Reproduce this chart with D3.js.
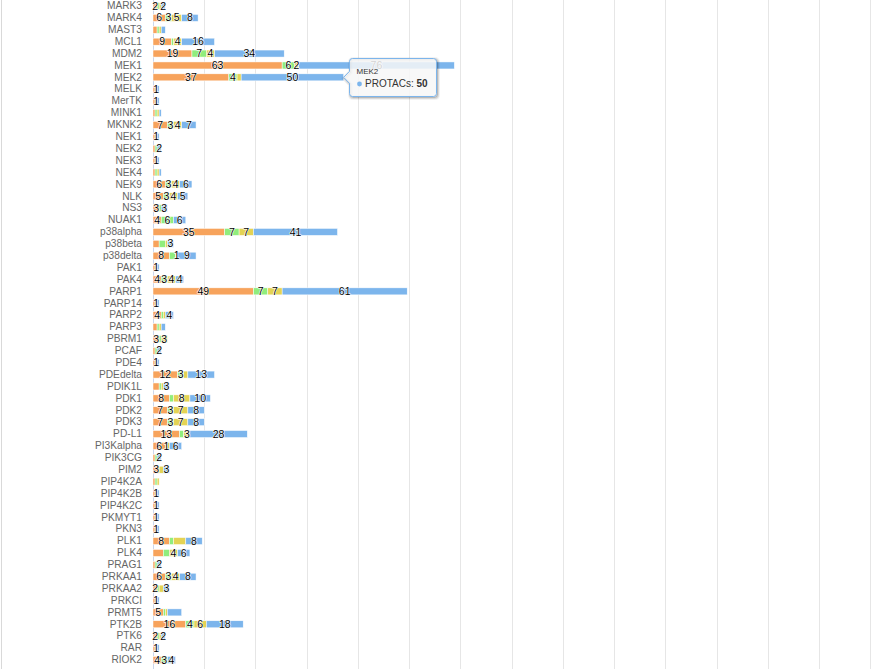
<!DOCTYPE html>
<html>
<head>
<meta charset="utf-8">
<script src="https://cdn.jsdelivr.net/npm/d3@7"></script>
<style>
  body { margin: 0; background: #fff; }
  svg { display: block; font-family: "Lucida Grande", "Lucida Sans Unicode", Arial, Helvetica, sans-serif; }
</style>
</head>
<body>
<div id="chart"></div>
<script>
// Targets shown in this part of the chart (top to bottom)
const targets = ["MARK3", "MARK4", "MAST3", "MCL1", "MDM2", "MEK1", "MEK2", "MELK", "MerTK", "MINK1",
                 "MKNK2", "NEK1", "NEK2", "NEK3", "NEK4", "NEK9", "NLK", "NS3", "NUAK1", "p38alpha",
                 "p38beta", "p38delta", "PAK1", "PAK4", "PARP1", "PARP14", "PARP2", "PARP3", "PBRM1", "PCAF",
                 "PDE4", "PDEdelta", "PDIK1L", "PDK1", "PDK2", "PDK3", "PD-L1", "PI3Kalpha", "PIK3CG", "PIM2",
                 "PIP4K2A", "PIP4K2B", "PIP4K2C", "PKMYT1", "PKN3", "PLK1", "PLK4", "PRAG1", "PRKAA1", "PRKAA2",
                 "PRKCI", "PRMT5", "PTK2B", "PTK6", "RAR", "RIOK2"];

// Series values, same order as targets
const warheads  = [2, 6, 2, 9, 19, 63, 37, 1, 1, 1,   7, 1, 1, 1, 1, 6, 5, 3, 4, 35,
                   3, 8, 1, 4, 49, 1, 4, 2, 3, 1,     1, 12, 3, 8, 7, 7, 13, 6, 1, 3,
                   1, 1, 1, 1, 1, 8, 5, 1, 6, 2,      1, 5, 16, 2, 1, 4];
const e3Ligands = [1, 3, 1, 1, 7, 6, 4, 1, 1, 1,      3, 1, 1, 1, 1, 3, 3, 1, 6, 7,
                   3, 3, 1, 3, 7, 1, 1, 1, 1, 1,      1, 3, 1, 2, 3, 3, 2, 1, 1, 0,
                   1, 1, 1, 1, 1, 2, 3, 1, 3, 1,      1, 1, 4, 1, 1, 3];
const linkers   = [1, 5, 1, 4, 4, 2, 2, 0, 0, 1,      4, 0, 0, 0, 1, 4, 4, 0, 0, 7,
                   1, 1, 0, 4, 7, 0, 1, 1, 3, 0,      0, 2, 1, 8, 7, 7, 3, 1, 0, 2,
                   1, 0, 0, 0, 0, 6, 4, 0, 4, 2,      0, 1, 6, 1, 0, 0];
const protacs   = [2, 8, 2, 16, 34, 76, 50, 1, 1, 1,  7, 1, 2, 1, 1, 6, 5, 3, 6, 41,
                   3, 9, 1, 4, 61, 1, 4, 2, 0, 2,     1, 13, 3, 10, 8, 8, 28, 6, 2, 3,
                   0, 1, 1, 1, 1, 8, 6, 2, 8, 3,      1, 7, 18, 2, 1, 4];

const seriesNames = ["Warheads", "E3 ligands", "Linkers", "PROTACs"];
const seriesColors = ["#f7a35c", "#90ed7d", "#e4d354", "#7cb5ec"];
const valueTicks = d3.range(0, 351, 25);

// Labels that the original chart does not show
const unlabelledTargets = ["MAST3", "MINK1", "NEK4", "PARP3", "PIP4K2A"];
const hiddenLabels = [["p38beta", "Warheads"], ["p38beta", "E3 ligands"], ["p38delta", "E3 ligands"],
                      ["PDIK1L", "Warheads"], ["PDK1", "E3 ligands"], ["PLK1", "E3 ligands"],
                      ["PLK1", "Linkers"], ["PLK4", "Warheads"], ["PLK4", "E3 ligands"],
                      ["PRMT5", "Linkers"], ["PRMT5", "PROTACs"]];

// Tooltip that is open in the picture
const tooltipTarget = "MEK2";
const tooltipSeries = "PROTACs";

const svgWidth = 873;
const svgHeight = 669;
const rowStep = 11.89;

const rows = targets.map((t, i) => ({
    target: t,
    "Warheads": warheads[i],
    "E3 ligands": e3Ligands[i],
    "Linkers": linkers[i],
    "PROTACs": protacs[i]
}));

const stacked = d3.stack().keys(seriesNames)(rows);

const x = d3.scaleLinear()
            .domain([0, 350])
            .range([153, 153 + 350 * 2.05]);

const y = d3.scaleBand()
            .domain(targets)
            .range([6 - rowStep / 2, 6 - rowStep / 2 + rowStep * targets.length])
            .paddingInner(0.41)
            .paddingOuter(0.205);

const svg = d3.select("#chart")
              .append("svg")
              .attr("width", svgWidth)
              .attr("height", svgHeight);

// page border on the left
svg.append("line")
   .attr("x1", 1.5).attr("x2", 1.5)
   .attr("y1", 0).attr("y2", svgHeight)
   .attr("stroke", "#d9d9d9");

// grid
svg.append("g")
   .selectAll("line")
   .data(valueTicks.slice(1))
   .join("line")
   .attr("x1", d => Math.round(x(d)) + 0.5)
   .attr("x2", d => Math.round(x(d)) + 0.5)
   .attr("y1", 0)
   .attr("y2", svgHeight)
   .attr("stroke", "#e6e6e6");

// category axis
const yAxis = svg.append("g")
                 .attr("transform", `translate(${x(0) - 11},0)`)
                 .call(d3.axisLeft(y).tickSize(0).tickPadding(0));
yAxis.select(".domain").remove();
yAxis.selectAll("text")
     .attr("fill", "#666")
     .style("font-size", "10.2px")
     .style("font-family", "inherit");

svg.append("line")
   .attr("x1", Math.round(x(0)) + 0.5)
   .attr("x2", Math.round(x(0)) + 0.5)
   .attr("y1", 0)
   .attr("y2", svgHeight)
   .attr("stroke", "#ccd6eb");

// bars
svg.append("g")
   .selectAll("g")
   .data(stacked)
   .join("g")
   .attr("fill", (s, i) => seriesColors[i])
   .selectAll("rect")
   .data(s => s.filter(d => d[1] > d[0]))
   .join("rect")
   .attr("x", d => x(d[0]))
   .attr("y", d => y(d.data.target))
   .attr("width", d => x(d[1]) - x(d[0]))
   .attr("height", y.bandwidth())
   .attr("stroke", "#fff")
   .attr("stroke-width", 0.5);

// data labels
const labelData = [];
stacked.forEach((s, si) => {
    s.forEach(d => {
        const v = d[1] - d[0];
        if (v <= 0) return;
        labelData.push({
            target: d.data.target,
            series: seriesNames[si],
            si: si,
            value: v,
            cx: x((d[0] + d[1]) / 2),
            cy: y(d.data.target) + y.bandwidth() / 2
        });
    });
});

const labelG = svg.append("g");
const labels = labelG.selectAll("text")
                     .data(labelData)
                     .join("text")
                     .attr("x", d => d.cx)
                     .attr("y", d => d.cy + 3.6)
                     .attr("text-anchor", "middle")
                     .style("font-size", "10.5px")
                     .attr("fill", "#000")
                     .attr("stroke", "#fff")
                     .attr("stroke-width", 1.2)
                     .attr("stroke-linejoin", "round")
                     .attr("paint-order", "stroke")
                     .text(d => d.value);

labels.each(function(d) { d.w = this.getComputedTextLength() + 1; });

// hide overlapping labels row by row, bigger values win
const tieOrder = [3, 0, 1, 2];
const hiddenSet = new Set(hiddenLabels.map(h => h[0] + "|" + h[1]));
d3.group(labelData, d => d.target).forEach(list => {
    const shown = [];
    list.slice()
        .sort((a, b) => b.value - a.value || tieOrder[a.si] - tieOrder[b.si])
        .forEach(l => {
            const hide = unlabelledTargets.includes(l.target) || hiddenSet.has(l.target + "|" + l.series) ||
                         shown.some(s => Math.abs(s.cx - l.cx) < (s.w + l.w) / 2);
            l.visible = !hide;
            if (!hide) shown.push(l);
        });
});
labels.filter(d => !d.visible).remove();

// tooltip
const tipRow = rows[targets.indexOf(tooltipTarget)];
const tipStack = stacked[seriesNames.indexOf(tooltipSeries)][targets.indexOf(tooltipTarget)];
const ax = x(tipStack[1]);
const ay = y(tooltipTarget) + y.bandwidth() / 2;
const bx = Math.round(ax) + 5.5, by = Math.round(ay) - 18.5, bw = 87, bh = 38, r = 3;

const tipPath = `M${bx + r},${by} L${bx + bw - r},${by} Q${bx + bw},${by} ${bx + bw},${by + r}
                 L${bx + bw},${by + bh - r} Q${bx + bw},${by + bh} ${bx + bw - r},${by + bh}
                 L${bx + r},${by + bh} Q${bx},${by + bh} ${bx},${by + bh - r}
                 L${bx},${ay + 6} L${ax},${ay} L${bx},${ay - 6}
                 L${bx},${by + r} Q${bx},${by} ${bx + r},${by} Z`;

const tip = svg.append("g");
[3, 2, 1].forEach(k => {
    tip.append("path")
       .attr("d", tipPath)
       .attr("transform", "translate(1,1)")
       .attr("fill", "none")
       .attr("stroke", "#000")
       .attr("stroke-opacity", 0.05 * k)
       .attr("stroke-width", 2 * (4 - k) - 1);
});
tip.append("path")
   .attr("d", tipPath)
   .attr("fill", "rgba(247,247,247,0.85)")
   .attr("stroke", seriesColors[seriesNames.indexOf(tooltipSeries)])
   .attr("stroke-width", 1);

tip.append("text")
   .attr("x", bx + 7)
   .attr("y", by + 15)
   .style("font-size", "8px")
   .attr("fill", "#333")
   .text(tooltipTarget);

tip.append("circle")
   .attr("cx", bx + 10)
   .attr("cy", by + 25.5)
   .attr("r", 2.4)
   .attr("fill", seriesColors[seriesNames.indexOf(tooltipSeries)]);

const tipLine = tip.append("text")
                   .attr("x", bx + 15.5)
                   .attr("y", by + 28.5)
                   .style("font-size", "10px")
                   .attr("fill", "#333");
tipLine.append("tspan").text(tooltipSeries + ": ");
tipLine.append("tspan").attr("font-weight", "bold").text(tipRow[tooltipSeries]);
</script>
</body>
</html>
